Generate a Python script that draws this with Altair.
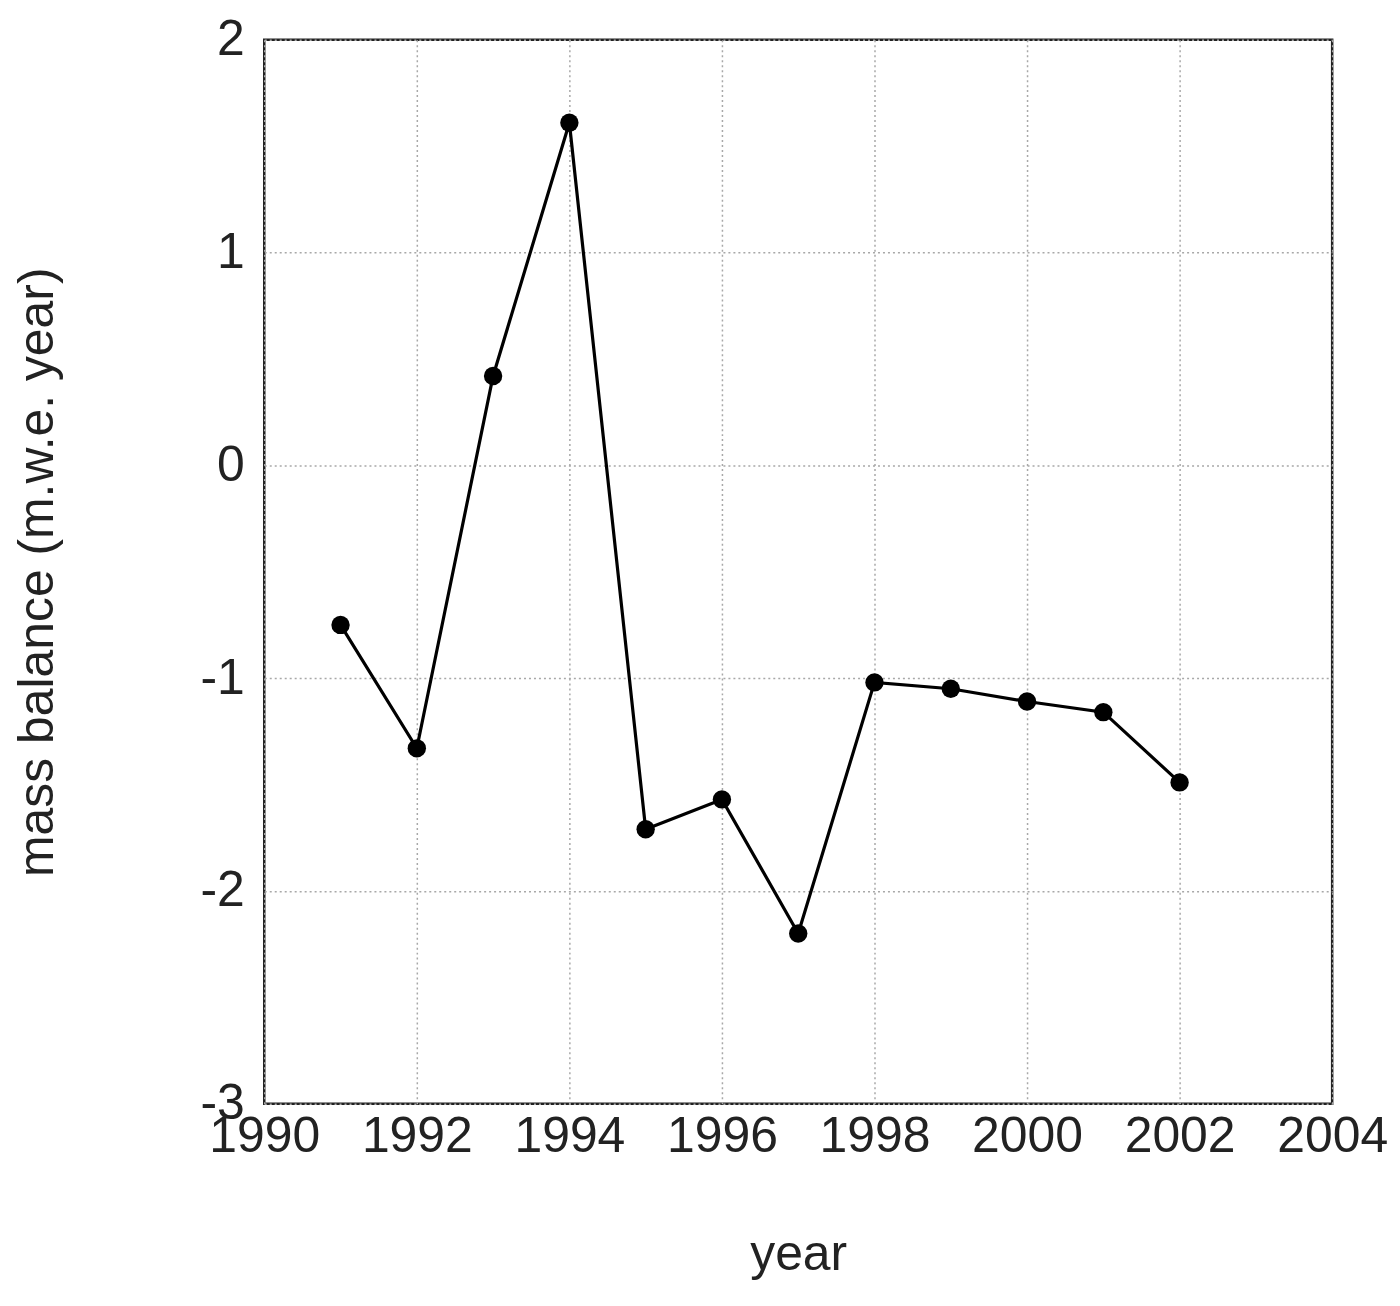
import altair as alt
import pandas as pd

years = [1991, 1992, 1993, 1994, 1995, 1996, 1997, 1998, 1999, 2000, 2001, 2002]
balance = [-0.75, -1.33, 0.42, 1.61, -1.71, -1.57, -2.20, -1.02, -1.05, -1.11, -1.16, -1.49]
x_ticks = [1990, 1992, 1994, 1996, 1998, 2000, 2002, 2004]
y_ticks = [-3, -2, -1, 0, 1, 2]

df = pd.DataFrame({"year": years, "balance": balance})

x = alt.X("year:Q", scale=alt.Scale(domain=[1990, 2004], nice=False, zero=False),
          axis=alt.Axis(values=x_ticks, labelExpr="'' + datum.value", title="year",
                        tickSize=0, labelPadding=8, titlePadding=68))
y = alt.Y("balance:Q", scale=alt.Scale(domain=[-3, 2], nice=False, zero=False),
          axis=alt.Axis(values=y_ticks, labelExpr="'' + datum.value",
                        title="mass balance (m.w.e. year)",
                        tickSize=0, labelPadding=20, titlePadding=138))

base = alt.Chart(df)
line = base.mark_line(color="black", strokeWidth=3.2).encode(x=x, y=y)
pts = base.mark_point(filled=True, color="black", size=340, opacity=1).encode(x=x, y=y)

chart = (line + pts).properties(
    width=1071, height=1067,
    autosize=alt.AutoSizeParams(type="none"),
    padding={"left": 257, "top": 30, "right": 60, "bottom": 190},
    background="white",
).configure_view(
    stroke="#222", strokeWidth=2.5
).configure_axis(
    grid=True, gridColor="#a8a8a8", gridDash=[2, 3], gridWidth=1.5,
    domain=False,
    labelFont="Liberation Sans", titleFont="Liberation Sans",
    labelFontSize=50, titleFontSize=50, labelColor="#222", titleColor="#222",
    titleFontWeight="normal", labelFlush=False, labelOverlap=False
)

chart.save("out.html", embed_options={"renderer": "svg", "actions": False})
